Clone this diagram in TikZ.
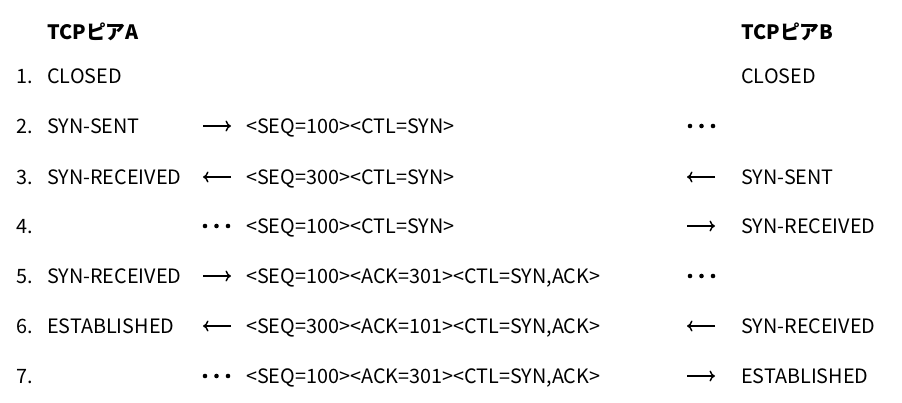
\documentclass[tikz,border=0pt]{standalone}
\usepackage{fontspec}
\setmainfont{Noto Sans CJK JP}
\usetikzlibrary{arrows.meta}

\begin{document}
\begin{tikzpicture}[x=1pt, y=-1pt,
    txt/.style={anchor=base west, inner sep=0pt, font=\fontsize{19.8}{24}\selectfont},
    head/.style={txt, font=\fontsize{19.8}{24}\selectfont\bfseries},
    arr/.style={line width=1.4pt, -{To[length=5.5pt, width=11pt]}},
    dot/.style={circle, fill=black, inner sep=0pt, minimum size=4.6pt}]

    \useasboundingbox (0,0) rectangle (902,402);

    % ===== 見出し =====
    \node[head] (hA) at (47,39) {TCPピアA};
    \node[head] (hB) at (741,39) {TCPピアB};

    % ===== 番号 =====
    \node[txt] (n1) at (16,83)  {1.};
    \node[txt] (n2) at (16,133) {2.};
    \node[txt] (n3) at (16,184) {3.};
    \node[txt] (n4) at (16,233) {4.};
    \node[txt] (n5) at (16,283) {5.};
    \node[txt] (n6) at (16,333) {6.};
    \node[txt] (n7) at (16,383) {7.};

    % ===== ピアAの状態 =====
    \node[txt] (a1) at (47,83)  {CLOSED};
    \node[txt] (a2) at (47,133) {SYN-SENT};
    \node[txt] (a3) at (47,184) {SYN-RECEIVED};
    \node[txt] (a5) at (47,283) {SYN-RECEIVED};
    \node[txt] (a6) at (47,333) {ESTABLISHED};

    % ===== セグメント =====
    \node[txt] (m2) at (246,133) {<SEQ=100><CTL=SYN>};
    \node[txt] (m3) at (246,184) {<SEQ=300><CTL=SYN>};
    \node[txt] (m4) at (246,233) {<SEQ=100><CTL=SYN>};
    \node[txt] (m5) at (246,283) {<SEQ=100><ACK=301><CTL=SYN,ACK>};
    \node[txt] (m6) at (246,333) {<SEQ=300><ACK=101><CTL=SYN,ACK>};
    \node[txt] (m7) at (246,383) {<SEQ=100><ACK=301><CTL=SYN,ACK>};

    % ===== ピアBの状態 =====
    \node[txt] (b1) at (741,83)  {CLOSED};
    \node[txt] (b3) at (741,184) {SYN-SENT};
    \node[txt] (b4) at (741,233) {SYN-RECEIVED};
    \node[txt] (b6) at (741,333) {SYN-RECEIVED};
    \node[txt] (b7) at (741,383) {ESTABLISHED};

    % ===== A側の矢印と点 =====
    \draw[arr] (203,126) -- (231,126);
    \draw[arr] (231,177) -- (203,177);
    \foreach \x in {205,216.5,228} \node[dot] at (\x,226) {};
    \draw[arr] (203,276) -- (231,276);
    \draw[arr] (231,326) -- (203,326);
    \foreach \x in {205,216.5,228} \node[dot] at (\x,376) {};

    % ===== B側の矢印と点 =====
    \foreach \x in {690,701.5,713} \node[dot] at (\x,126) {};
    \draw[arr] (715,177) -- (687,177);
    \draw[arr] (687,226) -- (715,226);
    \foreach \x in {690,701.5,713} \node[dot] at (\x,276) {};
    \draw[arr] (715,326) -- (687,326);
    \draw[arr] (687,376) -- (715,376);

\end{tikzpicture}
\end{document}
